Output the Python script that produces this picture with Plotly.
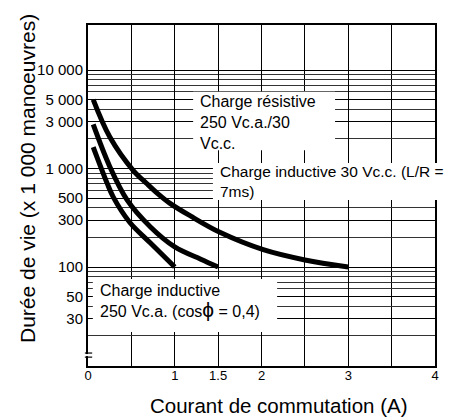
import plotly.graph_objects as go

# Curves (current in A, life in x1000 operations)
res_x = [0.06, 0.25, 0.52, 0.68, 0.80, 0.95, 1.18, 1.52, 2.02, 2.50, 3.0]
res_y = [5000, 2100, 960, 700, 560, 440, 330, 225, 150, 118, 100]
dc_x = [0.06, 0.25, 0.45, 0.72, 1.0, 1.3, 1.5]
dc_y = [2800, 1050, 480, 255, 160, 120, 100]
ac_x = [0.06, 0.22, 0.29, 0.48, 0.72, 1.0]
ac_y = [1650, 710, 515, 285, 175, 100]

x_tickvals = [0, 1, 1.5, 2, 3, 4]
x_ticktext = ["0", "1", "1.5", "2", "3", "4"]
x_minor = [0.5, 2.5, 3.5]
y_tickvals = [10000, 5000, 3000, 1000, 500, 300, 100, 50, 30]
y_ticktext = ["10 000", "5 000", "3 000", "1 000", "500", "300", "100", "50", "30"]
y_minor = [20, 40, 60, 70, 80, 90, 200, 400, 600, 700, 800, 900,
           2000, 4000, 6000, 7000, 8000, 9000]

FONT = "Liberation Sans, Arial, sans-serif"

fig = go.Figure()
for xs, ys in [(res_x, res_y), (dc_x, dc_y), (ac_x, ac_y)]:
    fig.add_trace(go.Scatter(x=xs, y=ys, mode="lines",
                             line=dict(color="black", width=5, shape="spline", smoothing=1.0),
                             showlegend=False, hoverinfo="skip"))

# page body has an 8px margin, so the figure is sized to end at the window edge
fig.update_layout(
    width=446, height=411,
    margin=dict(l=80, r=19, t=17, b=53),
    paper_bgcolor="white", plot_bgcolor="white",
    font=dict(family=FONT, color="black"),
    xaxis=dict(range=[0, 4], tickvals=x_tickvals, ticktext=x_ticktext,
               showgrid=True, gridcolor="black", gridwidth=1,
               minor=dict(tickvals=x_minor, showgrid=True, gridcolor="black", gridwidth=1),
               showline=True, linecolor="black", linewidth=2, mirror=True,
               ticks="", tickfont=dict(size=13), zeroline=False, ticklabelstandoff=-4),
    yaxis=dict(type="log", range=[0.995, 4.457], tickvals=y_tickvals, ticktext=y_ticktext,
               showgrid=True, gridcolor="black", gridwidth=1.2,
               minor=dict(tickvals=y_minor, showgrid=True, gridcolor="#333", gridwidth=0.8),
               showline=True, linecolor="black", linewidth=2, mirror=True,
               ticks="", tickfont=dict(size=15), zeroline=False),
)

# white label boxes (paper coords)
boxes = [
    (0.303, 0.633, 0.712, 0.804),
    (0.36, 0.487, 1.06, 0.595),
    (0.014, 0.10, 0.545, 0.255),
    (-0.01, 0.029, 0.012, 0.035),   # axis break gap
]
for x0, y0, x1, y1 in boxes:
    fig.add_shape(type="rect", xref="paper", yref="paper", x0=x0, y0=y0, x1=x1, y1=y1,
                  fillcolor="white", line=dict(width=0), layer="above")

# axis break bars
for yb in (0.038, 0.026):
    fig.add_shape(type="line", xref="paper", yref="paper", x0=-0.009, x1=0.012, y0=yb, y1=yb,
                  line=dict(color="black", width=1.2), layer="above")

# pointer lines (data coords, y in log10)
pointers = [
    (1.141, 3.218, 0.772, 2.721),
    (1.429, 2.761, 1.037, 2.203),
    (0.380, 1.888, 0.622, 2.264),
]
for x0, y0, x1, y1 in pointers:
    fig.add_shape(type="line", xref="x", yref="y", x0=x0, y0=y0, x1=x1, y1=y1,
                  line=dict(color="black", width=1.2), layer="above")

ann = dict(xref="paper", yref="paper", showarrow=False, xanchor="left", yanchor="middle",
           align="left", font=dict(size=16, family=FONT, color="black"))
fig.add_annotation(x=0.318, y=0.713, text="Charge résistive<br>250 Vc.a./30<br>Vc.c.", **ann)
fig.add_annotation(x=0.376, y=0.541, text="Charge inductive 30 Vc.c. (L/R =<br>7ms)",
                   **{**ann, "font": dict(size=15.5, family=FONT, color="black")})
fig.add_annotation(x=0.029, y=0.188,
                   text="Charge inductive<br>250 Vc.a. (cos<span style='font-size:21px'>ϕ</span> = 0,4)",
                   **ann)

# axis titles
fig.add_annotation(x=0.55, y=-0.117, xref="paper", yref="paper", showarrow=False,
                   text="Courant de commutation (A)", font=dict(size=20.5, family=FONT, color="black"),
                   xanchor="center", yanchor="middle")
fig.add_annotation(x=-0.176, y=0.551, xref="paper", yref="paper", showarrow=False,
                   text="Durée de vie (x 1 000 manoeuvres)", textangle=-90,
                   font=dict(size=21, family=FONT, color="black"),
                   xanchor="center", yanchor="middle")

fig.write_html("out.html")
